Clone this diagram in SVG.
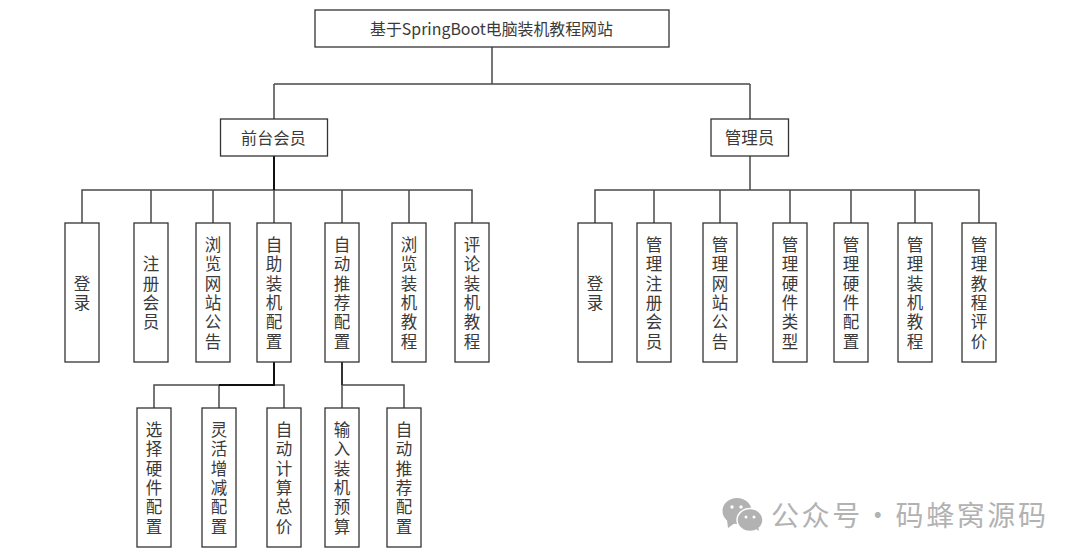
<svg xmlns="http://www.w3.org/2000/svg" width="1080" height="559" viewBox="0 0 1080 559">
<style>
text{font-family:"Noto Sans CJK SC","Liberation Sans",sans-serif;font-size:16px;fill:#3a3a3a;text-anchor:middle}
.v{writing-mode:vertical-rl;font-size:16.5px;letter-spacing:2.9px}
.b{fill:#fff;stroke:#333;stroke-width:1.3}
.c{fill:none;stroke:#4a4a4a;stroke-width:1.5}
.t{fill:none;stroke:#111;stroke-width:2}
.w{font-size:28px;letter-spacing:2.6px;word-spacing:-7.8px;fill:#b2b2b2;text-anchor:start}
</style>
<rect width="1080" height="559" fill="#fff"/>
<g id="connectors">
<path class="c" d="M492 47V84M274 84H750M274 84V119M750 84V119"/>
<path class="c" d="M82 223V190H472V223M151 190V223M213 190V223M274 190V223M342 190V223M409 190V223"/>
<path class="t" d="M274 156V190"/>
<path class="c" d="M750 156V190M595 223V190H979V223M654 190V223M720 190V223M790 190V223M851 190V223M915 190V223"/>
<path class="c" d="M154 408V385H284V408M219 385V408"/>
<path class="t" d="M274 362V385H219"/>
<path class="c" d="M342 385V408M342 385H404V408"/>
<path class="t" d="M342 362V385" style="stroke:#333"/>
</g>
<g id="root"><rect class="b" x="315" y="10" width="354" height="37"/><text x="491.500" y="34.500" style="font-size:15.900px">基于SpringBoot电脑装机教程网站</text></g>
<g id="member"><rect class="b" x="220.500" y="119" width="107" height="37"/><text x="273.500" y="144" style="letter-spacing:.2px">前台会员</text></g>
<g id="admin"><rect class="b" x="711" y="119" width="77.500" height="37"/><text x="749.500" y="144" style="font-size:16.500px">管理员</text></g>
<g id="m1"><rect class="b" x="65" y="223" width="34" height="139"/><text class="v" x="82" y="294.500">登录</text></g>
<g id="m2"><rect class="b" x="134" y="223" width="34" height="139"/><text class="v" x="151" y="294.500">注册会员</text></g>
<g id="m3"><rect class="b" x="196" y="223" width="34" height="139"/><text class="v" x="213" y="294.500">浏览网站公告</text></g>
<g id="m4"><rect class="b" x="257" y="223" width="34" height="139"/><text class="v" x="274" y="294.500">自助装机配置</text></g>
<g id="m5"><rect class="b" x="325" y="223" width="34" height="139"/><text class="v" x="342" y="294.500">自动推荐配置</text></g>
<g id="m6"><rect class="b" x="392" y="223" width="34" height="139"/><text class="v" x="409" y="294.500">浏览装机教程</text></g>
<g id="m7"><rect class="b" x="455" y="223" width="34" height="139"/><text class="v" x="472" y="294.500">评论装机教程</text></g>
<g id="a1"><rect class="b" x="578" y="223" width="34" height="139"/><text class="v" x="595" y="294.500">登录</text></g>
<g id="a2"><rect class="b" x="637" y="223" width="34" height="139"/><text class="v" x="654" y="294.500">管理注册会员</text></g>
<g id="a3"><rect class="b" x="703" y="223" width="34" height="139"/><text class="v" x="720" y="294.500">管理网站公告</text></g>
<g id="a4"><rect class="b" x="773" y="223" width="34" height="139"/><text class="v" x="790" y="294.500">管理硬件类型</text></g>
<g id="a5"><rect class="b" x="834" y="223" width="34" height="139"/><text class="v" x="851" y="294.500">管理硬件配置</text></g>
<g id="a6"><rect class="b" x="898" y="223" width="34" height="139"/><text class="v" x="915" y="294.500">管理装机教程</text></g>
<g id="a7"><rect class="b" x="962" y="223" width="34" height="139"/><text class="v" x="979" y="294.500">管理教程评价</text></g>
<g id="s1"><rect class="b" x="137" y="408" width="34" height="139"/><text class="v" x="154" y="479.500">选择硬件配置</text></g>
<g id="s2"><rect class="b" x="202" y="408" width="34" height="139"/><text class="v" x="219" y="479.500">灵活增减配置</text></g>
<g id="s3"><rect class="b" x="267" y="408" width="34" height="139"/><text class="v" x="284" y="479.500">自动计算总价</text></g>
<g id="s4"><rect class="b" x="325" y="408" width="34" height="139"/><text class="v" x="342" y="479.500">输入装机预算</text></g>
<g id="s5"><rect class="b" x="387" y="408" width="34" height="139"/><text class="v" x="404" y="479.500">自动推荐配置</text></g>
<g id="watermark">
<ellipse cx="737" cy="511" rx="14.500" ry="13" fill="#b2b2b2"/>
<path d="M727 520l1 8 7-5z" fill="#b2b2b2"/>
<ellipse cx="750" cy="520" rx="13" ry="11.500" fill="#b2b2b2" stroke="#fff" stroke-width="1.500"/>
<path d="M756 529l3 2-1-5z" fill="#b2b2b2"/>
<circle cx="732" cy="507" r="1.700" fill="#fff"/><circle cx="741" cy="507" r="1.700" fill="#fff"/>
<circle cx="746" cy="517" r="1.500" fill="#fff"/><circle cx="754" cy="517" r="1.500" fill="#fff"/>
<text class="w" x="771" y="526">公众号 · 码蜂窝源码</text>
</g>
</svg>
